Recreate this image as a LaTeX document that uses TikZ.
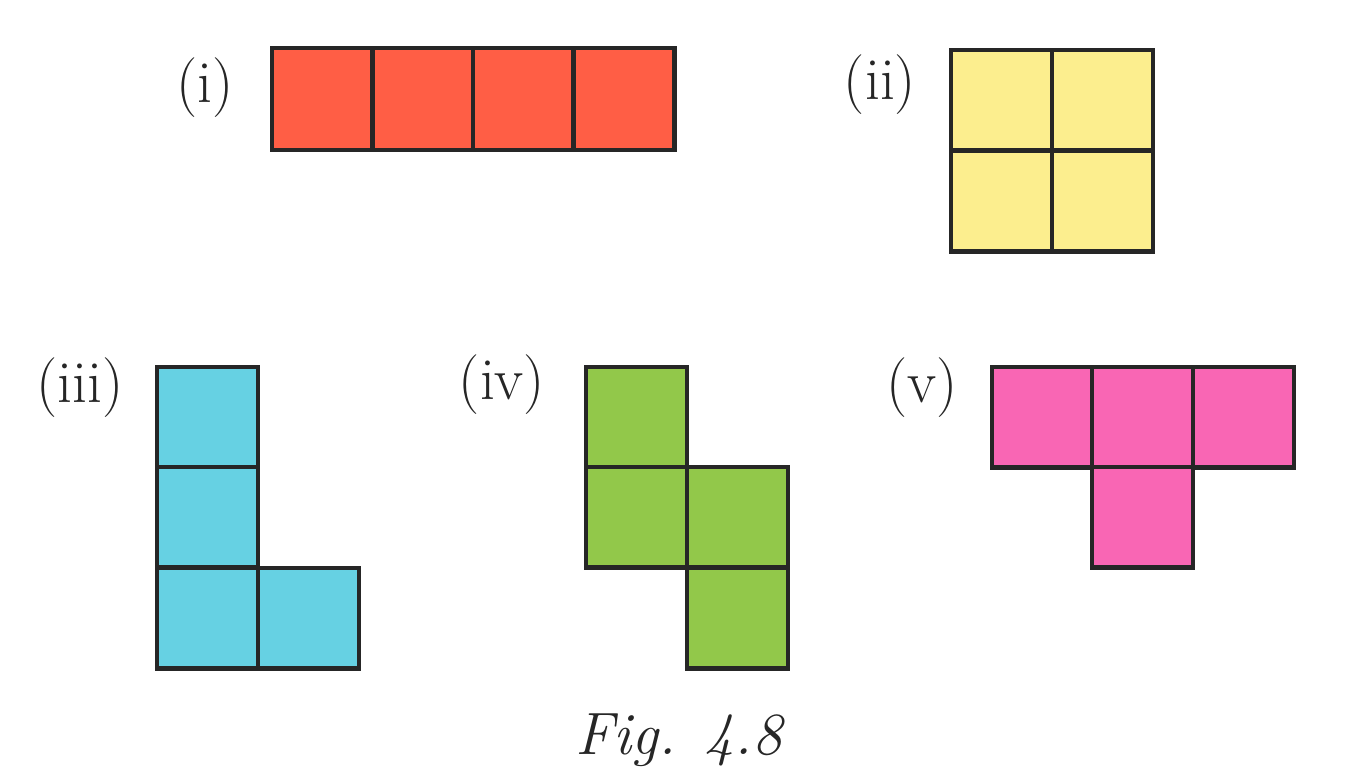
\documentclass[tikz,border=0pt]{standalone}
\usepackage{amsmath}

\definecolor{tileRed}{HTML}{FF5E45}
\definecolor{tileYellow}{HTML}{FCEE8E}
\definecolor{tileCyan}{HTML}{66D1E3}
\definecolor{tileGreen}{HTML}{92C84A}
\definecolor{tilePink}{HTML}{F966B4}

\tikzset{
    tile/.style={draw=black!85,line width=1.2pt,line join=miter},
    lbl/.style={font=\fontsize{17}{20}\selectfont,text=black!85}
}

\begin{document}
\begin{tikzpicture}[x=0.01cm,y=-0.01cm]
    \useasboundingbox (0,0) rectangle (1350,784);
    % (i)
    \foreach \x in {272,373,473,574}
        \draw[tile,fill=tileRed] (\x,48) rectangle ++(100.5,102);
    % (ii)
    \foreach \x in {951,1052}
        \foreach \y in {50,151}
            \draw[tile,fill=tileYellow] (\x,\y) rectangle ++(101,100.5);
    % (iii)
    \foreach \x/\y in {157/367,157/467,157/568,258/568}
        \draw[tile,fill=tileCyan] (\x,\y) rectangle ++(101,100.5);
    % (iv)
    \foreach \x/\y in {586/367,586/467,687/467,687/568}
        \draw[tile,fill=tileGreen] (\x,\y) rectangle ++(101,100.5);
    % (v)
    \foreach \x/\y in {992/367,1092/367,1193/367,1092/467}
        \draw[tile,fill=tilePink] (\x,\y) rectangle ++(101,100.5);

    \node[lbl] (li) at (205,88) {(i)};
    \node[lbl] (lii) at (880,85) {(ii)};
    \node[lbl] (liii) at (80,388) {(iii)};
    \node[lbl] (liv) at (502,385) {(iv)};
    \node[lbl] (lv) at (922,388) {(v)};
    \node[lbl] (cap) at (680,740) {\textit{Fig. 4.8}};
\end{tikzpicture}
\end{document}
